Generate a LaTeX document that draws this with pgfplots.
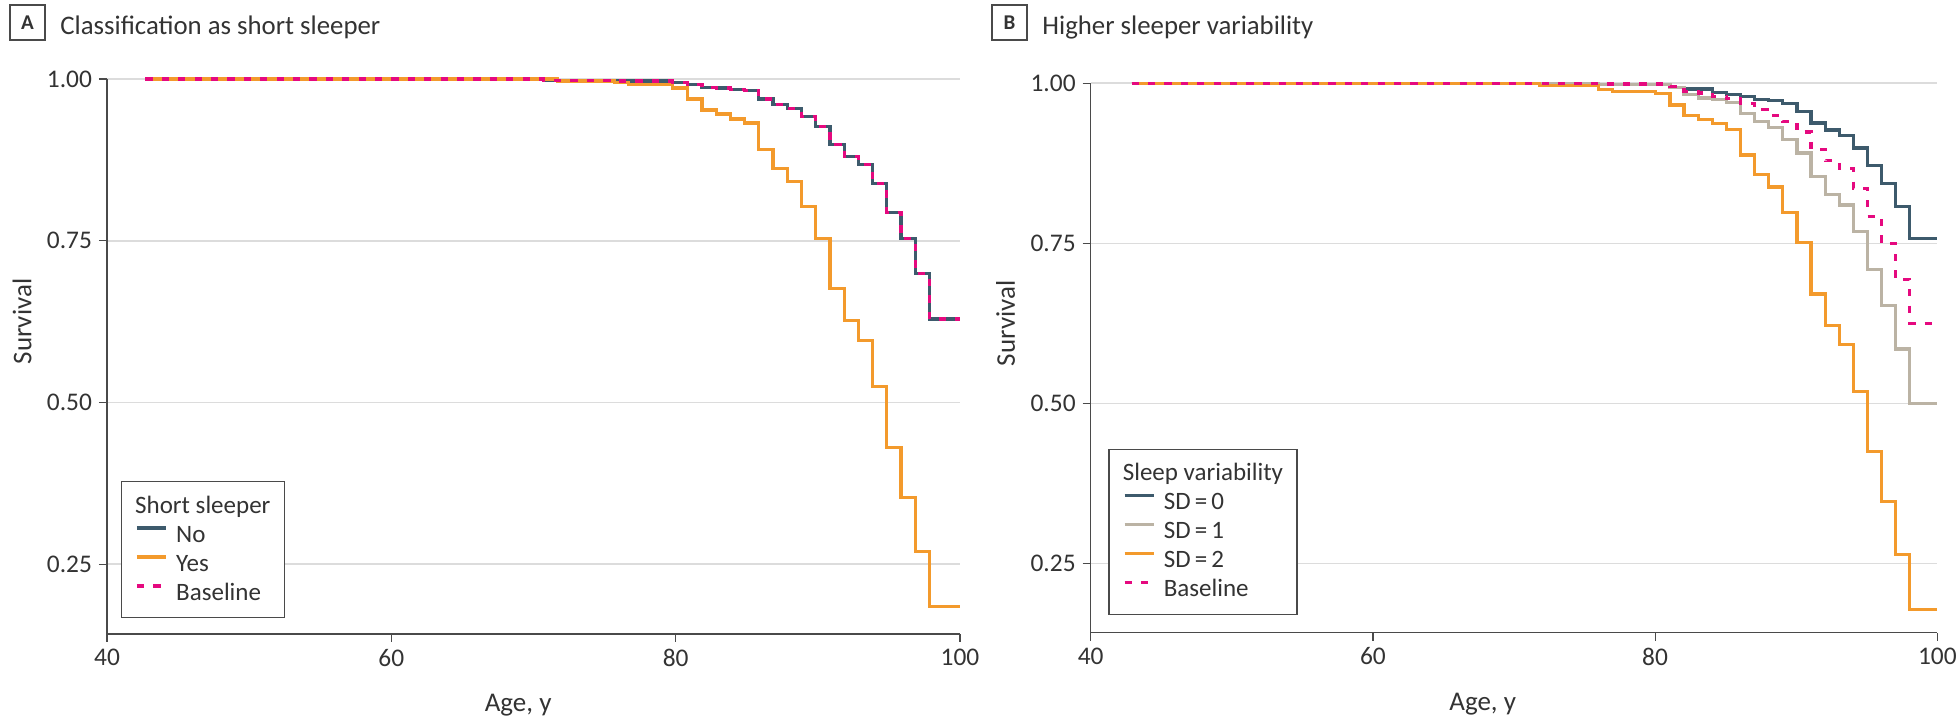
\documentclass[border=0pt]{standalone}
\usepackage{pgfplots}
\pgfplotsset{compat=1.18}
\usepackage{fontspec}
\setmainfont{Carlito}
\definecolor{cno}{HTML}{3D5A6C}
\definecolor{cyes}{HTML}{F39A2C}
\definecolor{cbase}{HTML}{E5097F}
\definecolor{csd1}{HTML}{BBB3A4}
\definecolor{cgrid}{HTML}{DCDCDC}
\definecolor{caxis}{HTML}{4A4A4A}
\definecolor{ctext}{HTML}{333333}
\pgfplotsset{
 km/.style={
  scale only axis, anchor=south west,
  xmin=40, xmax=100, ymin=0.142, ymax=1,
  clip=false,
  axis x line*=bottom, axis y line*=left,
  axis line style={caxis, line width=0.6pt, -},
  xtick={40,60,80,100}, ytick={0.25,0.5,0.75,1},
  tick align=outside, major tick length=4pt,
  tick style={caxis, line width=0.6pt},
  ymajorgrids, grid style={cgrid, line width=0.8pt},
  yticklabel style={/pgf/number format/.cd, fixed, fixed zerofill, precision=2},
  /pgf/number format/assume math mode=true,
  tick label style={font=\fontsize{12.7}{14}\selectfont, text=ctext},
  label style={font=\fontsize{13.5}{15}\selectfont, text=ctext},
  ylabel style={at={(0,0.563)}, anchor=center, yshift=42.5pt},
  every axis plot/.append style={const plot, line width=1.6pt},
  legend image code/.code={\draw[#1] (0pt,3.5pt) -- (14.5pt,3.5pt);},
  legend cell align=left,
  legend style={anchor=south west, draw=caxis, line width=0.6pt,
    font=\fontsize{12.5}{14}\selectfont, text=ctext,
    inner xsep=7pt, inner ysep=6.3pt, column sep=4.35pt,
    nodes={inner sep=0pt, text height=9.5pt, text depth=2.5pt},
    row sep=2.5pt},
  basestyle/.style={cbase, line width=1.6pt, dash pattern=on 3.6pt off 4.6pt},
 }
}
\begin{document}
\begin{tikzpicture}
\path[use as bounding box] (0,0) rectangle (978.5pt,358.5pt);
% Panel A
\begin{axis}[km, at={(53.5pt,41.5pt)}, width=426.5pt, height=277.5pt,
  xlabel={Age, y}, ylabel={Survival},
  xlabel style={at={(0.482,0)}, anchor=center, yshift=-35.5pt},
  legend style={at={(0,0)}, xshift=6.85pt, yshift=7.85pt}]
\addlegendimage{empty legend}
\addlegendentry{\hspace{-20.5pt}Short sleeper}
\addplot[cno] coordinates {(42.7,1.000) (70.7,0.998) (75.8,0.997) (79.8,0.995) (80.85,0.991) (81.85,0.987) (82.85,0.986) (83.85,0.984) (84.85,0.982) (85.85,0.969) (86.85,0.961) (87.85,0.954) (88.85,0.942) (89.85,0.926) (90.85,0.899) (91.85,0.880) (92.85,0.868) (93.85,0.838) (94.85,0.794) (95.85,0.753) (96.85,0.699) (97.85,0.629) (100,0.629)};
\addlegendentry{No}
\addplot[cyes] coordinates {(42.7,1.000) (71.7,0.997) (75.7,0.995) (76.7,0.992) (79.8,0.986) (80.85,0.969) (81.85,0.952) (82.85,0.946) (83.85,0.938) (84.85,0.932) (85.85,0.891) (86.85,0.862) (87.85,0.841) (88.85,0.803) (89.85,0.754) (90.85,0.676) (91.85,0.627) (92.85,0.596) (93.85,0.524) (94.85,0.430) (95.85,0.353) (96.85,0.270) (97.85,0.184) (100,0.184)};
\addlegendentry{Yes}
\addplot[basestyle] coordinates {(42.7,1.000) (70.7,0.998) (75.8,0.997) (79.8,0.995) (80.85,0.991) (81.85,0.987) (82.85,0.986) (83.85,0.984) (84.85,0.982) (85.85,0.969) (86.85,0.961) (87.85,0.954) (88.85,0.942) (89.85,0.926) (90.85,0.899) (91.85,0.880) (92.85,0.868) (93.85,0.838) (94.85,0.794) (95.85,0.753) (96.85,0.699) (97.85,0.629) (100,0.629)};
\addlegendentry{Baseline}
\end{axis}
% Panel B
\begin{axis}[km, at={(545.35pt,42.15pt)}, width=423.3pt, height=274.7pt,
  xlabel={Age, y}, ylabel={Survival},
  xlabel style={at={(0.463,0)}, anchor=center, yshift=-35.5pt},
  legend style={at={(0,0)}, xshift=8.8pt, yshift=8.85pt}]
\addlegendimage{empty legend}
\addlegendentry{\hspace{-20.5pt}Sleep variability}
\addplot[cno] coordinates {(42.9,1.000) (76.0,0.998) (81.05,0.994) (82.05,0.991) (84.05,0.986) (85.05,0.983) (86.05,0.980) (87.05,0.975) (88.05,0.973) (89.05,0.969) (90.05,0.956) (91.05,0.938) (92.05,0.927) (93.05,0.919) (94.05,0.899) (95.05,0.871) (96.05,0.844) (97.05,0.808) (98.05,0.758) (100,0.758)};
\addlegendentry{SD\,=\,0}
\addplot[csd1] coordinates {(42.9,1.000) (76.0,0.998) (81.05,0.993) (82.05,0.982) (83.05,0.977) (84.05,0.975) (85.05,0.970) (86.05,0.953) (87.05,0.940) (88.05,0.931) (89.05,0.912) (90.05,0.891) (91.05,0.854) (92.05,0.826) (93.05,0.810) (94.05,0.768) (95.05,0.709) (96.05,0.653) (97.05,0.585) (98.05,0.500) (100,0.500)};
\addlegendentry{SD\,=\,1}
\addplot[cyes] coordinates {(42.9,1.000) (71.8,0.996) (76.0,0.990) (77.0,0.987) (80.0,0.984) (81.05,0.966) (82.05,0.950) (83.05,0.944) (84.05,0.937) (85.05,0.928) (86.05,0.888) (87.05,0.858) (88.05,0.838) (89.05,0.798) (90.05,0.751) (91.05,0.671) (92.05,0.622) (93.05,0.592) (94.05,0.519) (95.05,0.425) (96.05,0.347) (97.05,0.264) (98.05,0.178) (100,0.178)};
\addlegendentry{SD\,=\,2}
\addplot[basestyle] coordinates {(42.9,1.000) (76.0,0.999) (81.05,0.995) (82.05,0.987) (83.05,0.985) (84.05,0.980) (85.05,0.976) (86.05,0.969) (87.05,0.959) (88.05,0.950) (89.05,0.940) (90.05,0.924) (91.05,0.897) (92.05,0.879) (93.05,0.867) (94.05,0.836) (95.05,0.792) (96.05,0.750) (97.05,0.694) (98.05,0.625) (100,0.625)};
\addlegendentry{Baseline}
\end{axis}
% Titles
\draw[caxis, line width=0.6pt] (5pt,338.5pt) rectangle (22.5pt,356pt);
\node[font=\bfseries\fontsize{10.5}{12}\selectfont, text=ctext] at (13.75pt,347.25pt) {A};
\node[anchor=base west, inner sep=0pt, font=\fontsize{13.4}{15}\selectfont, text=ctext] at (30pt,341pt) {Classification as short sleeper};
\draw[caxis, line width=0.6pt] (496pt,338.5pt) rectangle (513.5pt,356pt);
\node[font=\bfseries\fontsize{10.5}{12}\selectfont, text=ctext] at (504.75pt,347.25pt) {B};
\node[anchor=base west, inner sep=0pt, font=\fontsize{13.4}{15}\selectfont, text=ctext] at (521pt,341pt) {Higher sleeper variability};
\end{tikzpicture}
\end{document}
